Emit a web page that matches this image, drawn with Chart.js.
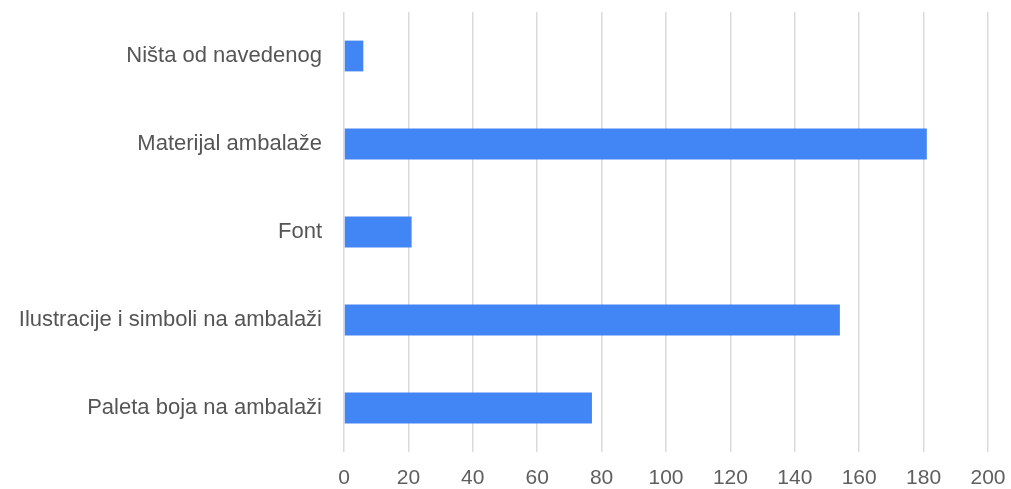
<!DOCTYPE html>
<html>
<head>
<meta charset="utf-8">
<script src="https://cdn.jsdelivr.net/npm/chart.js@4/dist/chart.umd.min.js"></script>
<style>
html,body{margin:0;padding:0;background:#fff;}
#wrap{width:1011px;height:489px;position:relative;}
</style>
</head>
<body>
<div id="wrap"><canvas id="c" width="1011" height="489"></canvas></div>
<script>
const categories = ["Ništa od navedenog", "Materijal ambalaže", "Font", "Ilustracije i simboli na ambalaži", "Paleta boja na ambalaži"];
const values = [6, 181, 21, 154, 77];
const xTicks = [0, 20, 40, 60, 80, 100, 120, 140, 160, 180, 200];

new Chart(document.getElementById('c'), {
  type: 'bar',
  data: {
    labels: categories,
    datasets: [{
      data: values,
      backgroundColor: '#4285f4',
      borderWidth: 0,
      barPercentage: 0.35,
      categoryPercentage: 1
    }]
  },
  options: {
    indexAxis: 'y',
    responsive: false,
    animation: false,
    layout: { padding: { top: 12, right: 23, bottom: 0, left: 0 } },
    plugins: { legend: { display: false }, tooltip: { enabled: false } },
    scales: {
      x: {
        min: 0, max: 200,
        afterBuildTicks: (s) => { s.ticks = xTicks.map(v => ({ value: v })); },
        afterFit: (s) => { s.height = 37; s.paddingLeft = 0; s.paddingRight = 0; },
        grid: { color: '#dadada', lineWidth: 1.5, drawTicks: false },
        border: { display: false },
        ticks: { color: '#5f5f5f', font: { family: 'Liberation Sans, Arial, sans-serif', size: 21, lineHeight: 1 }, padding: 16, maxRotation: 0 }
      },
      y: {
        afterFit: (s) => { s.width = 344; s.paddingTop = 0; s.paddingBottom = 0; },
        grid: { display: false },
        border: { display: false },
        ticks: { color: '#555555', font: { family: 'Liberation Sans, Arial, sans-serif', size: 22 }, padding: 14 }
      }
    }
  }
});
</script>
</body>
</html>
